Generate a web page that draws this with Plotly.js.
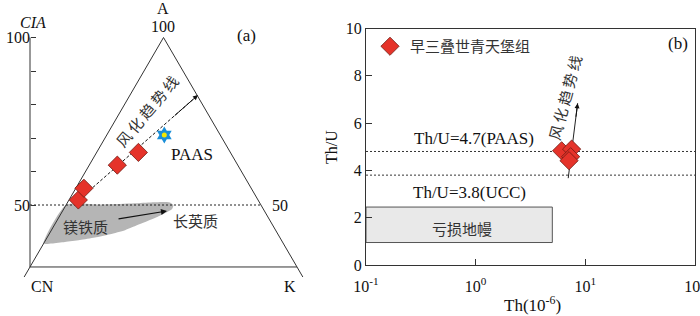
<!DOCTYPE html>
<html>
<head>
<meta charset="utf-8">
<script src="https://cdn.plot.ly/plotly-3.0.1.min.js"></script>
<style>html,body{margin:0;padding:0;background:#fff}#chart{width:700px;height:316px}</style>
</head>
<body>
<div id="chart"></div>
<script>
// ---------- Panel (a): schematic A–CN–K diagram (x: position across CN→K base, 0..100; y: CIA) ----------
const ciaTicks = [50, 60, 70, 80, 90, 100];
const ciaTickText = ['50', '', '', '', '', '100'];
const apexCIA = 100;
const baseCIA = 31.5;      // CIA level of the CN–K base line in the sketch
const tailCIA = 28.5;      // edges run slightly past the base
const feldsparCIA = 50;    // dotted CIA = 50 line
const sampleXa = [18.1, 20.2, 32.7, 40.6];
const sampleCIA = [51.5, 55.0, 61.9, 65.7];
const paasXa = [50.3];
const paasCIA = [70.9];
const trendXa = [16.5, 62.9];
const trendCIA = [50.3, 82.8];
const fieldX = [13.5, 26.2, 37.45, 44.9, 49.8, 52.4, 53.7, 53.2, 50.6, 46.8, 41.2, 35.6, 30.0, 24.3, 18.7, 13.1, 8.2, 5.1, 13.5];
const fieldCIA = [50.0, 50.15, 50.45, 50.75, 50.9, 50.75, 50.0, 48.8, 47.6, 46.1, 44.3, 42.5, 41.3, 40.3, 39.55, 38.96, 38.5, 38.5, 50.0];
const felsicArrowX = [32.6, 51.3];
const felsicArrowCIA = [45.8, 48.2];

// ---------- Panel (b): Th/U vs Th ----------
const thValues = [6.08, 7.5, 7.35, 7.1];
const thuValues = [4.83, 4.90, 4.58, 4.41];
const refThU = [4.8, 3.8];
const refLabels = ['Th/U=4.7(PAAS)', 'Th/U=3.8(UCC)'];
const mantleTh = [0.1, 5.0];
const mantleThU = [0.95, 2.45];
const trendTh = [6.98, 8.51];
const trendThU = [3.67, 6.84];
const xTickVals = [0.1, 1, 10, 100];
const xTickText = ['10<sup>-1</sup>', '10<sup>0</sup>', '10<sup>1</sup>', '10<sup>2</sup>'];
const yTickVals = [0, 2, 4, 6, 8, 10];

// ---------- helpers ----------
const W = 700, H = 316;
const px = v => v / W;
const py = v => 1 - v / H;
const edgeL = c => 50 - 50 * (apexCIA - c) / (apexCIA - baseCIA);
const edgeR = c => 50 + 50 * (apexCIA - c) / (apexCIA - baseCIA);
// pixel mapping of panel (a): x 0 -> 30px, 100 -> 297px ; CIA 100 -> 37.5px, 50 -> 205px
const axPx0 = 30, axPx100 = 297, sx = (axPx100 - axPx0) / 100;
const ayPx100 = 37.5, ayPx50 = 205, sy = (ayPx50 - ayPx100) / 50;
const aDomX = [18, 322], aDomY = [15, 287];
const aRangeX = [(aDomX[0] - axPx0) / sx, (aDomX[1] - axPx0) / sx];
const aRangeY = [100 - (aDomY[1] - ayPx100) / sy, 100 + (ayPx100 - aDomY[0]) / sy];

const serif = 'Liberation Serif, Times New Roman, serif';
const cjk = 'Noto Sans CJK SC, sans-serif';
const red = '#e5332a';
const redEdge = '#6e1a12';

const traces = [
  // gray mafic→felsic field
  {x: fieldX, y: fieldCIA, xaxis: 'x', yaxis: 'y', mode: 'lines', fill: 'toself',
   fillcolor: '#b5b5b5', line: {width: 0, shape: 'spline', smoothing: 0.6}, hoverinfo: 'skip', showlegend: false},
  // triangle edges
  {x: [edgeL(tailCIA), 50, edgeR(tailCIA)], y: [tailCIA, apexCIA, tailCIA], xaxis: 'x', yaxis: 'y',
   mode: 'lines', line: {color: '#333', width: 1}, showlegend: false, hoverinfo: 'skip'},
  // base line
  {x: [0, edgeR(baseCIA)], y: [baseCIA, baseCIA], xaxis: 'x', yaxis: 'y',
   mode: 'lines', line: {color: '#333', width: 1}, showlegend: false, hoverinfo: 'skip'},
  // CIA axis line
  {x: [0, 0], y: [baseCIA, apexCIA], xaxis: 'x', yaxis: 'y',
   mode: 'lines', line: {color: '#333', width: 1}, showlegend: false, hoverinfo: 'skip'},
  // CIA = 50 dotted line
  {x: [0, edgeR(feldsparCIA)], y: [feldsparCIA, feldsparCIA], xaxis: 'x', yaxis: 'y',
   mode: 'lines', line: {color: '#222', width: 1, dash: '2px,2px'}, showlegend: false, hoverinfo: 'skip'},
  // weathering trend (dashed)
  {x: trendXa, y: trendCIA, xaxis: 'x', yaxis: 'y', mode: 'lines',
   line: {color: '#111', width: 1, dash: '3px,2px'}, showlegend: false, hoverinfo: 'skip'},
  // samples (a)
  {x: sampleXa, y: sampleCIA, xaxis: 'x', yaxis: 'y', mode: 'markers',
   marker: {symbol: 'diamond', size: 14, color: red, line: {color: redEdge, width: 0.8}}, showlegend: false},
  // PAAS star
  {x: paasXa, y: paasCIA, xaxis: 'x', yaxis: 'y', mode: 'markers',
   marker: {symbol: 'hexagram', size: 13, color: '#1b8fd8', line: {width: 0}}, showlegend: false},
  {x: paasXa, y: paasCIA, xaxis: 'x', yaxis: 'y', mode: 'markers',
   marker: {symbol: 'circle', size: 5, color: '#f5e800', line: {width: 0}}, showlegend: false},

  // Panel (b)
  {x: [mantleTh[0], mantleTh[1], mantleTh[1], mantleTh[0], mantleTh[0]],
   y: [mantleThU[0], mantleThU[0], mantleThU[1], mantleThU[1], mantleThU[0]],
   xaxis: 'x2', yaxis: 'y2', mode: 'lines', fill: 'toself', fillcolor: '#e9e9e9',
   line: {color: '#555', width: 1}, showlegend: false, hoverinfo: 'skip'},
  ...refThU.map(v => ({x: [0.1, 100], y: [v, v], xaxis: 'x2', yaxis: 'y2', mode: 'lines',
   line: {color: '#333', width: 1, dash: '2px,2px'}, showlegend: false, hoverinfo: 'skip'})),
  {x: trendTh, y: trendThU, xaxis: 'x2', yaxis: 'y2', mode: 'lines',
   line: {color: '#222', width: 1}, showlegend: false, hoverinfo: 'skip'},
  {x: thValues, y: thuValues, xaxis: 'x2', yaxis: 'y2', mode: 'markers', name: '早三叠世青天堡组',
   marker: {symbol: 'diamond', size: 14, color: red, line: {color: redEdge, width: 0.8}}}
];

const annotations = [
  // panel (a) labels
  {text: 'A', x: px(163), y: py(8)},
  {text: '100', x: px(163), y: py(26)},
  {text: '<i>CIA</i>', x: px(33), y: py(23)},
  {text: '(a)', x: px(246), y: py(35), size: 17},
  {text: 'CN', x: px(42), y: py(286)},
  {text: 'K', x: px(290), y: py(286)},
  {text: '50', x: px(280), y: py(205)},
  {text: 'PAAS', x: px(192), y: py(155), size: 17},
  {text: '风\u2009化\u2009趋\u2009势\u2009线', x: px(146), y: py(111), angle: -50, cjk: true},
  {text: '镁铁质', x: px(85), y: py(226), cjk: true},
  {text: '长英质', x: px(195), y: py(221), cjk: true},
  // panel (b) labels
  {text: '(b)', x: px(678), y: py(43), size: 17},
  {text: refLabels[0], x: px(474), y: py(138), size: 17},
  {text: refLabels[1], x: px(470), y: py(192), size: 17},
  {text: '亏损地幔', x: px(462), y: py(228), cjk: true},
  {text: '风\u2009化\u2009趋\u2009势\u2009线', x: px(564), y: py(98), angle: -75, cjk: true},
  {text: 'Th/U', x: px(331), y: py(147), angle: -90, size: 16},
  {text: 'Th(10<sup>-6</sup>)', x: px(532), y: py(304), size: 17}
].map(a => ({
  text: a.text, x: a.x, y: a.y, xref: 'paper', yref: 'paper', showarrow: false,
  xanchor: 'center', yanchor: 'middle', textangle: a.angle || 0,
  font: {family: a.cjk ? cjk : serif, size: a.size || (a.cjk ? 15 : 16), color: a.cjk ? '#333' : '#111'}
}));

// arrows
const tFrac = 0.8;
annotations.push(
  {xref: 'x', yref: 'y', axref: 'x', ayref: 'y', x: trendXa[1], y: trendCIA[1],
   ax: trendXa[0] + (trendXa[1] - trendXa[0]) * tFrac, ay: trendCIA[0] + (trendCIA[1] - trendCIA[0]) * tFrac,
   text: '', showarrow: true, arrowhead: 2, arrowsize: 1, arrowwidth: 1, arrowcolor: '#111', standoff: 0},
  {xref: 'x', yref: 'y', axref: 'x', ayref: 'y', x: felsicArrowX[1], y: felsicArrowCIA[1],
   ax: felsicArrowX[0], ay: felsicArrowCIA[0],
   text: '', showarrow: true, arrowhead: 2, arrowsize: 1, arrowwidth: 1.2, arrowcolor: '#111', standoff: 0},
  {xref: 'x2', yref: 'y2', axref: 'x2', ayref: 'y2', x: Math.log10(trendTh[1]), y: trendThU[1],
   ax: Math.log10(trendTh[0]) + (Math.log10(trendTh[1]) - Math.log10(trendTh[0])) * tFrac,
   ay: trendThU[0] + (trendThU[1] - trendThU[0]) * tFrac,
   text: '', showarrow: true, arrowhead: 2, arrowsize: 1, arrowwidth: 1, arrowcolor: '#111', standoff: 0}
);

const layout = {
  width: W, height: H, margin: {l: 0, r: 0, t: 0, b: 0},
  paper_bgcolor: '#fff', plot_bgcolor: 'rgba(0,0,0,0)',
  showlegend: true,
  legend: {x: px(370), y: py(30), xanchor: 'left', yanchor: 'top', bgcolor: 'rgba(0,0,0,0)',
           font: {family: cjk, size: 15, color: '#333'}},
  xaxis: {domain: [px(aDomX[0]), px(aDomX[1])], range: aRangeX, visible: false, fixedrange: true},
  yaxis: {domain: [py(aDomY[1]), py(aDomY[0])], range: aRangeY, anchor: 'free', position: px(axPx0),
          showline: false, showgrid: false, zeroline: false, ticks: 'inside', ticklen: 5, tickwidth: 1,
          tickcolor: '#333', tickvals: ciaTicks, ticktext: ciaTickText,
          tickfont: {family: serif, size: 16, color: '#111'}, fixedrange: true},
  xaxis2: {domain: [px(366), px(695)], type: 'log', range: [-1, 2], anchor: 'y2',
           showline: true, mirror: true, linecolor: '#333', linewidth: 1, showgrid: false, zeroline: false,
           ticks: 'inside', ticklen: 6, tickcolor: '#333', tickvals: xTickVals, ticktext: xTickText,
           ticklabelstandoff: 7, ticklabeloverflow: 'allow',
           tickfont: {family: serif, size: 16, color: '#111'}},
  yaxis2: {domain: [py(265), py(28.5)], range: [0, 10], anchor: 'x2',
           showline: true, mirror: true, linecolor: '#333', linewidth: 1, showgrid: false, zeroline: false,
           ticks: 'inside', ticklen: 6, tickcolor: '#333', tickvals: yTickVals,
           tickfont: {family: serif, size: 16, color: '#111'}},
  annotations: annotations
};

Plotly.newPlot('chart', traces, layout, {displayModeBar: false, staticPlot: true});
</script>
</body>
</html>
